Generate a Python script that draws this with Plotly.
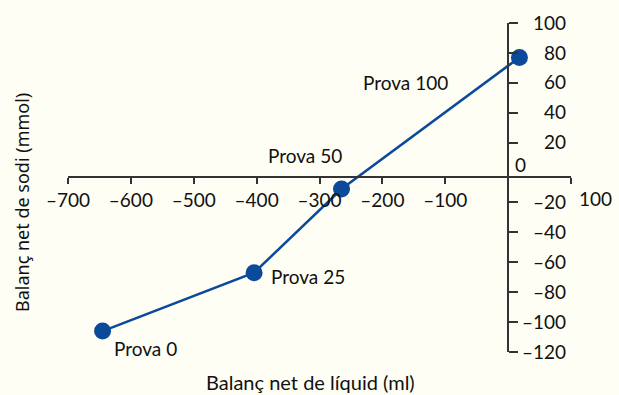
import plotly.graph_objects as go

# Data
labels = ["Prova 0", "Prova 25", "Prova 50", "Prova 100"]
liquid_balance = [-645, -404, -265, 18]
sodium_balance = [-106, -67, -11, 77]

x_ticks = [-700, -600, -500, -400, -300, -200, -100, 100]
y_ticks = [-120, -100, -80, -60, -40, -20, 20, 40, 60, 80, 100]

x_range = [-700, 100]
y_range = [-120, 100]

blue = "#0b4a9b"
axis_col = "#333333"
font_main = "Lato"
fs = 19
bg = "#FEFEF4"

W, H = 619, 395
ML, MR, MT, MB = 68, 48, 23, 43
pw, ph = W - ML - MR, H - MT - MB

fig = go.Figure()
fig.add_trace(go.Scatter(
    x=liquid_balance, y=sodium_balance, mode="lines+markers",
    line=dict(color=blue, width=2.5),
    marker=dict(color=blue, size=17),
    hoverinfo="skip", showlegend=False, cliponaxis=False,
))
fig.add_trace(go.Scatter(x=[None], y=[None], yaxis="y2", showlegend=False, hoverinfo="skip"))

# label offsets (pixels) for the point annotations
offsets = [(43, -17), (54, -4), (-37, 34), (-114, -25)]
for lab, xv, yv, (dx, dy) in zip(labels, liquid_balance, sodium_balance, offsets):
    fig.add_annotation(x=xv, y=yv, text=lab, showarrow=False, xshift=dx, yshift=dy,
                       font=dict(family=font_main, size=fs, color="#111111"))

# origin label
fig.add_annotation(x=0, y=0, text="0", showarrow=False, xshift=12, yshift=8,
                   font=dict(family=font_main, size=fs, color="#111111"))

x_axis_pos = (352 - 177) / ph
# "100" label of the x axis sits just right of the y-axis labels, as in the reference
fig.add_annotation(x=x_ticks[-1], y=x_axis_pos, xref="x", yref="paper", text=str(x_ticks[-1]),
                   showarrow=False, xshift=24, yshift=-21, xanchor="center", yanchor="middle",
                   font=dict(family=font_main, size=fs, color="#111111"))

x_frac_zero = (0 - x_range[0]) / (x_range[1] - x_range[0])
fig.update_layout(
    width=W, height=H,
    margin=dict(l=ML, r=MR, t=MT, b=MB, autoexpand=False),
    paper_bgcolor=bg, plot_bgcolor=bg,
    xaxis=dict(range=x_range, tickvals=x_ticks,
               ticktext=[str(v).replace("-", "\u2013") if v < 0 else "" for v in x_ticks],
               showgrid=False, zeroline=False, showline=True, linecolor=axis_col, linewidth=1.5,
               ticks="outside", ticklen=6, tickwidth=1.5, tickcolor=axis_col,
               anchor="free", position=x_axis_pos, automargin=False,
               tickfont=dict(family=font_main, size=fs, color="#111111")),
    yaxis=dict(range=y_range, tickvals=y_ticks, showticklabels=False,
               showgrid=False, zeroline=False, showline=True, linecolor=axis_col, linewidth=1.5,
               ticks="outside", ticklen=9, tickwidth=1.5, tickcolor=axis_col,
               side="right", anchor="free", position=x_frac_zero, automargin=False),
    yaxis2=dict(range=y_range, tickvals=y_ticks, ticktext=[str(v).replace("-", "\u2013") for v in y_ticks],
                overlaying="y", side="left", anchor="free", position=0.99, automargin=False,
                showgrid=False, zeroline=False, showline=False, ticks="",
                tickfont=dict(family=font_main, size=fs, color="#111111")),
)
fig.add_annotation(x=(310 - ML) / pw, y=(352 - 382) / ph, xref="paper", yref="paper",
                   text="Balanç net de líquid (ml)", showarrow=False,
                   xanchor="center", yanchor="middle",
                   font=dict(family=font_main, size=20, color="#111111"))
fig.add_annotation(x=(22 - ML) / pw, y=(352 - 203) / ph, xref="paper", yref="paper",
                   text="Balanç net de sodi (mmol)", showarrow=False, textangle=-90,
                   xanchor="center", yanchor="middle",
                   font=dict(family="Noto Sans", size=18, color="#111111"))

fig.write_html("out.html", config={"displayModeBar": False},
               post_script="document.body.style.margin='0px';document.body.style.background='" + bg + "';")
